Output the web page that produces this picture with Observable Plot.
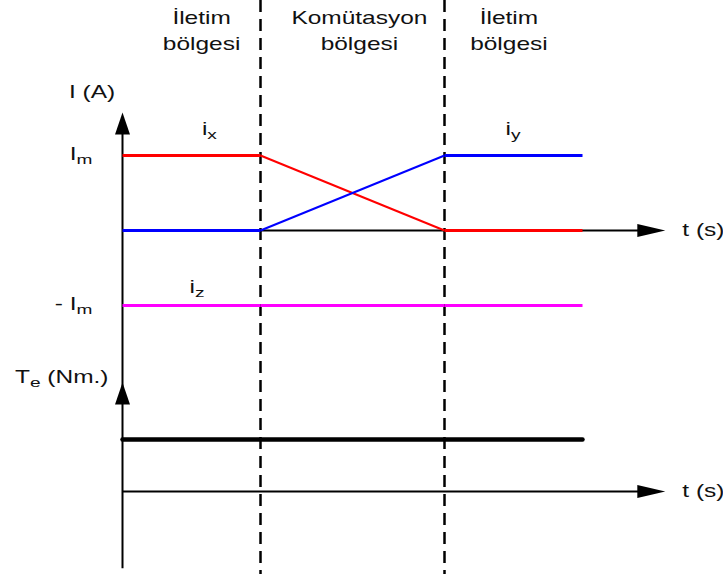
<!DOCTYPE html>
<html>
<head>
<meta charset="utf-8">
<script src="https://cdn.jsdelivr.net/npm/d3@7"></script>
<script src="https://cdn.jsdelivr.net/npm/@observablehq/plot@0.6"></script>
<style>
  html, body { margin: 0; padding: 0; background: #fff; }
  #chart svg { display: block; }
</style>
</head>
<body>
<div id="chart"></div>
<script>
// Time breakpoints (arbitrary units): conduction 0–3, commutation 3–7, conduction 7–10
const tBreaks = [0, 3, 7, 10];
// Phase currents at each breakpoint, in units of Im
const ixValues = [1, 1, 0, 0];
const iyValues = [0, 0, 1, 1];
const izValues = [-1, -1, -1, -1];
// Electromagnetic torque stays constant (normalised)
const teValues = [1, 1, 1, 1];

// Region boundaries and region captions
const regionBounds = [3, 7];
const regionNames = ["İletim\nbölgesi", "Komütasyon\nbölgesi", "İletim\nbölgesi"];
const regionLabelT = [1.72, 5.15, 8.4];

// Level labels on the current axis
const currentLevels = [1, -1];
const currentLevelNames = ["I_m", "- I_m"];

// Curve names and where they sit along the time axis
const curveNames = ["i_x", "i_y", "i_z"];
const curveNameT = [1.89, 8.49, 1.62];
const curveNameLevel = [1, 1, -1];

// Layout of the two stacked diagrams (current units)
const TE_ZERO = -3.48;    // zero line of the torque diagram
const TE_SCALE = 0.693;   // height of the torque level
const T_AXIS_END = 11.8;  // tip of the time-axis arrows
const I_AXIS_TOP = 1.573; // tip of the current-axis arrow
const TE_AXIS_TOP = -2.027;
const AXIS_BOTTOM = -4.51;

const font = "'Liberation Sans', Arial, Helvetica, sans-serif";

const segments = (vals, color) =>
  d3.pairs(tBreaks.map((t, k) => ({t, v: vals[k]})))
    .map(([a, b]) => ({t1: a.t, v1: a.v, t2: b.t, v2: b.v, color}));

const currentSegs = [
  ...segments(ixValues, "#ff0000"),
  ...segments(izValues, "#ff00ff"),
  ...segments(iyValues, "#0000ff")
];
const torque = tBreaks.map((t, k) => ({t, v: TE_ZERO + TE_SCALE * teValues[k]}));

// Filled arrowhead with its tip at the origin, pointing up
const arrowhead = (w, L) => ({
  draw(ctx) {
    ctx.moveTo(0, 0);
    ctx.lineTo(w / 2, L);
    ctx.lineTo(-w / 2, L);
    ctx.closePath();
  }
});

const chart = Plot.plot({
  width: 723,
  height: 574,
  marginTop: 0, marginRight: 0, marginBottom: 0, marginLeft: 0,
  x: {domain: [-2.6522, 13.0652], axis: null},
  y: {domain: [-4.5867, 3.0667], axis: null},
  color: {type: "identity"},
  style: {fontFamily: font, fontSize: "17.5px", color: "#111", background: "#fff"},
  marks: [
    // region boundaries
    Plot.ruleX(regionBounds, {stroke: "#000", strokeWidth: 2.5, strokeDasharray: "12,7"}),
    // axes
    Plot.ruleX([0], {y1: AXIS_BOTTOM, y2: I_AXIS_TOP - 0.2, stroke: "#000", strokeWidth: 2}),
    Plot.ruleY([0, TE_ZERO], {x1: 0, x2: T_AXIS_END - 0.4, stroke: "#000", strokeWidth: 1.8}),
    // torque
    Plot.line(torque, {x: "t", y: "v", stroke: "#000", strokeWidth: 4.5}),
    // phase currents
    Plot.link(currentSegs, {
      x1: "t1", y1: "v1", x2: "t2", y2: "v2",
      stroke: "color",
      strokeWidth: d => (d.v1 === d.v2 ? 3.2 : 2)
    }),
    // arrowheads
    Plot.dot([I_AXIS_TOP, TE_AXIS_TOP], {x: 0, y: d => d, symbol: arrowhead(15, 22), fill: "#000", stroke: null}),
    Plot.dot([0, TE_ZERO], {x: T_AXIS_END, y: d => d, symbol: arrowhead(13, 28), rotate: 90, fill: "#000", stroke: null}),
    // region captions
    Plot.text(regionNames, {
      x: (d, i) => regionLabelT[i], y: 2.995, text: d => d,
      lineAnchor: "top", lineHeight: 1.48, fill: "#111"
    }),
    // axis captions
    Plot.text(["I (A)"], {x: 0, y: I_AXIS_TOP, text: d => d, dx: -30.5, dy: -20, fill: "#111"}),
    Plot.text(["T_e (Nm.)"], {x: 0, y: TE_AXIS_TOP, text: d => d, dx: -14, dy: -5, textAnchor: "end", fill: "#111"}),
    Plot.text(["t (s)", "t (s)"], {x: T_AXIS_END, y: (d, i) => [0, TE_ZERO][i], text: d => d, dx: 17, textAnchor: "start", fill: "#111"}),
    Plot.text(currentLevelNames, {x: 0, y: (d, i) => currentLevels[i], text: d => d, dx: -30, dy: -1, textAnchor: "end", fill: "#111"}),
    // curve names
    Plot.text(curveNames.slice(0, 2), {x: (d, i) => curveNameT[i], y: (d, i) => curveNameLevel[i], text: d => d, dy: -26.5, fill: "#111"}),
    Plot.text(curveNames.slice(2), {x: curveNameT[2], y: curveNameLevel[2], text: d => d, dy: -18, fill: "#111"})
  ]
});

// Subscripts written as "X_y"
d3.select(chart).selectAll("text").each(function () {
  if (this.querySelector("tspan") !== null) return;
  const el = d3.select(this);
  const m = el.text().match(/^(.*?)(\w)_(\w)(.*)$/);
  if (!m) return;
  el.text(null);
  el.append("tspan").text(m[1] + m[2]);
  el.append("tspan").attr("dy", 4).attr("font-size", "0.78em").text(m[3]);
  if (m[4]) el.append("tspan").attr("dy", -4).text(m[4]);
});

document.getElementById("chart").appendChild(chart);

// Wide lettering: stretch every label horizontally about its own anchor point
const ns = "http://www.w3.org/2000/svg";
chart.querySelectorAll("text").forEach(t => {
  const r = t.getBoundingClientRect();
  const anchor = getComputedStyle(t).textAnchor;
  const sx = anchor === "middle" ? r.left + r.width / 2 : anchor === "end" ? r.right : r.left;
  const p = new DOMPoint(sx, r.top + r.height / 2).matrixTransform(t.parentNode.getScreenCTM().inverse());
  const g = document.createElementNS(ns, "g");
  g.setAttribute("transform", `translate(${p.x},${p.y}) scale(1.4,1) translate(${-p.x},${-p.y})`);
  t.parentNode.insertBefore(g, t);
  g.appendChild(t);
});
</script>
</body>
</html>
